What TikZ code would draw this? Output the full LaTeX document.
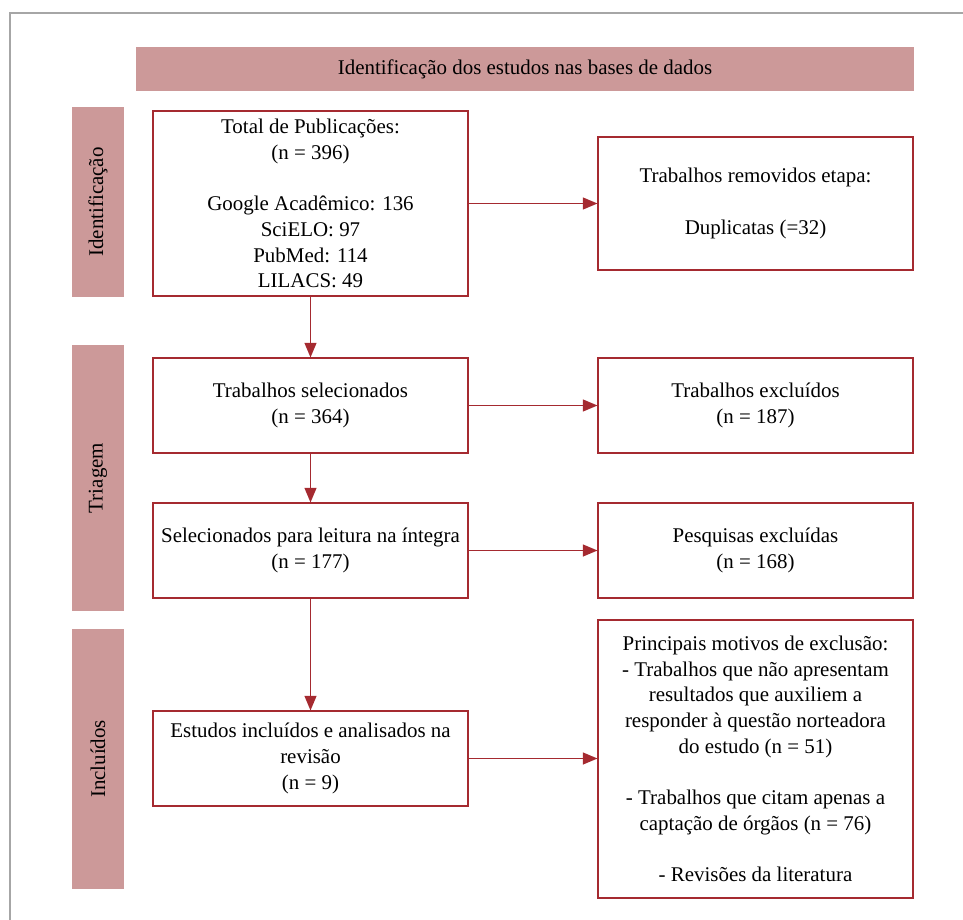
\documentclass[tikz,border=0pt]{standalone}
\usepackage{fontspec}
\setmainfont{Liberation Serif}
\usetikzlibrary{arrows.meta}
\definecolor{bandrose}{RGB}{204,153,153}
\definecolor{boxred}{RGB}{165,42,48}

\begin{document}
\begin{tikzpicture}[x=0.75pt,y=-0.75pt,
    every node/.style={font=\fontsize{15.7}{19.3}\selectfont},
    band/.style={fill=bandrose, draw=none, inner sep=0pt},
    sideband/.style={band, rotate=90, minimum height=39pt},
    box/.style={draw=boxred, line width=0.8pt, align=center, inner sep=2pt, minimum width=236.25pt},
    flow/.style={-{Triangle[length=11pt,width=9pt]}, boxred, line width=1pt}]
    \useasboundingbox (0,0) rectangle (963,920);

    % Frame
    \draw[gray!70, line width=1.2pt] (10,920) -- (10,13) -- (963,13);

    % Phase bands
    \node[band, minimum width=583.5pt, minimum height=33pt] (head) at (525,69) {Identificação dos estudos nas bases de dados};
    \node[sideband, minimum width=142.5pt] (identif) at (98,202) {Identificação};
    \node[sideband, minimum width=199.5pt] (triagem) at (98,478) {Triagem};
    \node[sideband, minimum width=195pt] (incluidos) at (98,759) {Incluídos};

    % Main column
    \node[box, minimum height=138.75pt] (total) at (310.5,203.5)
        {Total de Publicações:\\(n = 396)\\[\baselineskip]Google Acadêmico: 136\\SciELO: 97\\PubMed: 114\\LILACS: 49};
    \node[box, minimum height=71.25pt] (sel) at (310.5,405.5) {Trabalhos selecionados\\(n = 364)};
    \node[box, minimum height=71.25pt] (leitura) at (310.5,550.5) {Selecionados para leitura na íntegra\\(n = 177)};
    \node[box, minimum height=71.25pt] (incl) at (310.5,758.5) {Estudos incluídos e analisados na\\revisão\\(n = 9)};

    % Exclusion column
    \node[box, minimum height=99.75pt] (dup) at (755.5,203.5) {Trabalhos removidos etapa:\\[\baselineskip]Duplicatas (=32)};
    \node[box, minimum height=71.25pt] (excl) at (755.5,405.5) {Trabalhos excluídos\\(n = 187)};
    \node[box, minimum height=71.25pt] (pesq) at (755.5,550.5) {Pesquisas excluídas\\(n = 168)};
    \node[box, minimum height=208.5pt] (motivos) at (755.5,759)
        {Principais motivos de exclusão:\\- Trabalhos que não apresentam\\resultados que auxiliem a\\responder à questão norteadora\\do estudo (n = 51)\\[\baselineskip]- Trabalhos que citam apenas a\\captação de órgãos (n = 76)\\[\baselineskip]- Revisões da literatura};

    % Arrows
    \draw[flow] (total) -- (sel);
    \draw[flow] (sel) -- (leitura);
    \draw[flow] (leitura) -- (incl);
    \draw[flow] (total) -- (dup);
    \draw[flow] (sel) -- (excl);
    \draw[flow] (leitura) -- (pesq);
    \draw[flow] (incl.east) -- (incl.east -| motivos.west);
\end{tikzpicture}
\end{document}
